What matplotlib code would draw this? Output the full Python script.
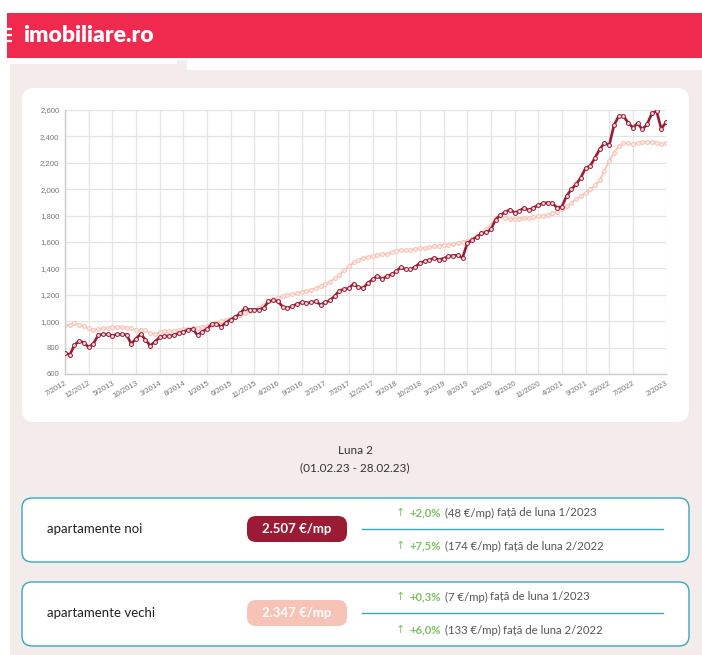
import pandas as pd
import matplotlib.pyplot as plt
from matplotlib.patches import FancyBboxPatch, Rectangle

# months on the x axis, 7/2012 .. 2/2023
months = pd.period_range('2012-07', '2023-02', freq='M')
month_labels = [f'{m.month}/{m.year}' for m in months]

tick_labels = ['7/2012', '12/2012', '5/2013', '10/2013', '3/2014', '8/2014', '1/2015',
               '6/2015', '11/2015', '4/2016', '9/2016', '2/2017', '7/2017', '12/2017',
               '5/2018', '10/2018', '3/2019', '8/2019', '1/2020', '6/2020', '11/2020',
               '4/2021', '9/2021', '2/2022', '7/2022', '2/2023']
y_ticks = [600, 800, 1000, 1200, 1400, 1600, 1800, 2000, 2200, 2400, 2600]

# price per sqm, new apartments
new_apts = [760, 745, 818, 852, 838, 802, 830, 893, 903, 900,
            890, 900, 900, 897, 828, 868, 903, 860, 815, 845,
            878, 888, 888, 893, 908, 920, 935, 940, 895, 921,
            940, 978, 982, 958, 990,
            1012, 1032, 1060, 1098, 1087, 1088, 1088, 1100, 1150, 1157,
            1150, 1110, 1100, 1112, 1130, 1142, 1137, 1142, 1150, 1125,
            1142, 1157, 1192, 1232, 1242, 1250, 1285, 1257, 1250, 1290,
            1316, 1345, 1320, 1340, 1355, 1378, 1410, 1392, 1392, 1412,
            1440, 1455, 1462, 1480, 1467, 1475, 1492, 1497, 1500, 1480,
            1590, 1615, 1640, 1665, 1672, 1695, 1770, 1805, 1825, 1846,
            1823, 1835, 1860, 1840, 1860, 1878, 1893, 1898, 1893, 1860,
            1868, 1949, 1999, 2037, 2088, 2160, 2176, 2239, 2302, 2352,
            2332, 2483, 2554, 2554, 2504, 2466, 2499, 2453, 2491, 2574,
            2592, 2458, 2507]

# price per sqm, old apartments
old_apts = [971, 971, 983, 971, 963, 945, 937, 940, 945, 950,
            955, 958, 958, 952, 945, 935, 930, 930, 910, 905,
            915, 925, 925, 928, 933, 938, 942, 945, 948, 955,
            962, 975, 988, 1000, 1010,
            1020, 1035, 1045, 1060, 1075, 1085, 1100, 1125, 1150, 1168,
            1178, 1190, 1200, 1205, 1212, 1222, 1230, 1238, 1250, 1268,
            1282, 1300, 1325, 1350, 1385, 1415, 1445, 1465, 1480, 1487,
            1493, 1500, 1508, 1512, 1522, 1535, 1538, 1538, 1543, 1545,
            1553, 1556, 1560, 1567, 1572, 1576, 1580, 1588, 1593, 1600,
            1606, 1622, 1642, 1670, 1697, 1730, 1780, 1795, 1785, 1772,
            1778, 1778, 1780, 1783, 1786, 1795, 1800, 1808, 1818, 1828,
            1850, 1872, 1897, 1922, 1947, 1972, 1998, 2030, 2070, 2140,
            2214, 2275, 2325, 2350, 2352, 2340, 2352, 2358, 2360, 2360,
            2352, 2340, 2347]

# summary boxes
box_names = ['apartamente noi', 'apartamente vechi']
box_prices = ['2.507 €/mp', '2.347 €/mp']
box_pct = [['+2,0%', '+7,5%'], ['+0,3%', '+6,0%']]
box_abs = [['(48 €/mp)', '(174 €/mp)'], ['(7 €/mp)', '(133 €/mp)']]
box_ref = [['față de luna 1/2023', 'față de luna 2/2022'],
           ['față de luna 1/2023', 'față de luna 2/2022']]

DARK = '#9a1b33'
LIGHT = '#f8c3b7'
RED = '#ef2a4e'
BEIGE = '#f3eceb'
TEAL = '#35a9bd'
GREEN = '#7cc35f'
GRAY = '#555555'

W, H = 702, 655
fig = plt.figure(figsize=(W / 100, H / 100), dpi=100)
fig.patch.set_facecolor('white')

# page background in pixel coordinates
bg = fig.add_axes([0, 0, 1, 1], zorder=0)
bg.set_xlim(0, W)
bg.set_ylim(H, 0)
bg.axis('off')

bg.add_patch(Rectangle((10, 60), W - 10, H - 60, color=BEIGE, lw=0))
bg.add_patch(Rectangle((10, 57), 167, 7, color='white', lw=0))
bg.add_patch(Rectangle((187, 57), W - 187, 13, color='white', lw=0))
bg.add_patch(Rectangle((7, 13), W - 7, 45, color=RED, lw=0))
for yy in [29, 35, 41]:
    bg.plot([7, 12], [yy, yy], color='white', lw=1.6, solid_capstyle='butt')
bg.text(23, 35, 'imobiliare.ro', color='white', fontsize=16.5, fontweight='heavy',
        family='Lato', va='center', ha='left')

# chart card
bg.add_patch(FancyBboxPatch((22, 88), 667, 334, boxstyle='round,pad=0,rounding_size=12',
                            fc='white', ec='none'))

bg.text(355, 450, 'Luna 2', fontsize=8.5, color='#333333', family='Lato',
        ha='center', va='center')
bg.text(355, 468, '(01.02.23 - 28.02.23)', fontsize=8.5, color='#333333', family='Lato',
        ha='center', va='center')

fig.canvas.draw()
renderer = fig.canvas.get_renderer()


def chain(x, y, parts):
    # draw text pieces one after another on the same line
    for txt, col, wt in parts:
        t = bg.text(x, y, txt, fontsize=8.2, color=col, fontweight=wt, family='Lato',
                    ha='left', va='center')
        bb = t.get_window_extent(renderer)
        x += bb.width + 3


box_tops = [498, 582]
pill_colors = [DARK, LIGHT]
for i, top in enumerate(box_tops):
    bg.add_patch(FancyBboxPatch((22, top), 667, 64, boxstyle='round,pad=0,rounding_size=10',
                                fc='white', ec=TEAL, lw=1.0))
    mid = top + 31
    bg.text(47, mid, box_names[i], fontsize=9.5, color='#222222', family='Lato',
            ha='left', va='center')
    bg.add_patch(FancyBboxPatch((247, mid - 13), 100, 26, boxstyle='round,pad=0,rounding_size=9',
                                fc=pill_colors[i], ec='none'))
    bg.text(297, mid, box_prices[i], fontsize=9.5, color='white', fontweight='bold',
            family='Lato', ha='center', va='center')
    bg.plot([362, 663], [mid, mid], color=TEAL, lw=1.0)
    for j, yy in enumerate([top + 15, top + 48]):
        bg.text(396, yy, '↑', fontsize=8, color=GREEN, family='DejaVu Sans',
                ha='left', va='center')
        chain(410, yy, [(box_pct[i][j], GREEN, 'bold'),
                        (box_abs[i][j], GRAY, 'normal'),
                        (box_ref[i][j], GRAY, 'normal')])

# the line chart
x0, x1, y0, y1 = 65, 666, 110, 374
ax = fig.add_axes([x0 / W, 1 - y1 / H, (x1 - x0) / W, (y1 - y0) / H], zorder=1)
ax.set_facecolor('white')

x = list(range(len(month_labels)))
ax.plot(x, old_apts, color=LIGHT, lw=1.3, marker='o', ms=2.8, mfc='#fde9e4',
        mec=LIGHT, mew=0.7, zorder=2)
ax.plot(x, new_apts, color=DARK, lw=1.9, marker='o', ms=2.8, mfc='#f3d6dc',
        mec=DARK, mew=0.7, zorder=3)

tick_pos = [month_labels.index(t) for t in tick_labels]
ax.set_xticks(tick_pos)
ax.set_xticklabels(tick_labels, rotation=30, ha='right', rotation_mode='anchor',
                   fontsize=5.6, color='#777777', family='Liberation Sans')
ax.set_yticks(y_ticks)
ax.set_yticklabels([f'{v:,}' for v in y_ticks], fontsize=5.6, color='#777777',
                   family='Liberation Sans')
ax.set_xlim(0, len(month_labels) - 1)
ax.set_ylim(600, 2600)
ax.grid(True, color='#e4e4e4', lw=0.9)
ax.set_axisbelow(True)
ax.tick_params(length=0, pad=4)
for s in ['top', 'right']:
    ax.spines[s].set_visible(False)
for s in ['left', 'bottom']:
    ax.spines[s].set_color('#cccccc')
    ax.spines[s].set_linewidth(1.0)

fig.savefig('out.png', dpi=100)
